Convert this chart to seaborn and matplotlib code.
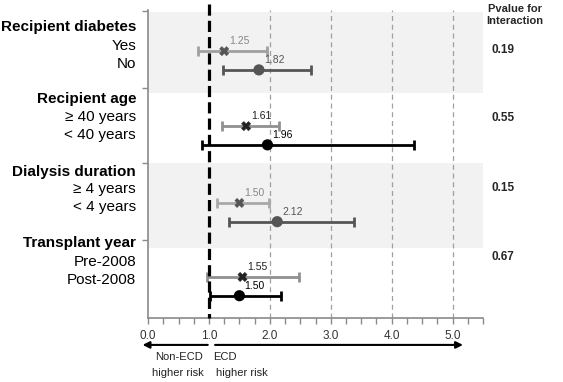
import matplotlib
matplotlib.use("Agg")
import matplotlib.pyplot as plt
import numpy as np
import seaborn as sns
import pandas as pd

groups = ["Recipient diabetes", "Recipient age", "Dialysis duration", "Transplant year"]
subgroups = ["Yes", "No", "\u2265 40 years", "< 40 years",
             "\u2265 4 years", "< 4 years", "Pre-2008", "Post-2008"]
estimate = [1.25, 1.82, 1.61, 1.96, 1.50, 2.12, 1.55, 1.50]
ci_low = [0.82, 1.23, 1.21, 0.89, 1.13, 1.33, 0.97, 1.02]
ci_high = [1.95, 2.67, 2.15, 4.36, 1.98, 3.38, 2.48, 2.18]
pvalues = ["0.19", "0.55", "0.15", "0.67"]
xticks = [0.0, 1.0, 2.0, 3.0, 4.0, 5.0]

sns.set_theme(style="white")
plt.rcParams["font.family"] = ["Liberation Sans", "DejaVu Sans"]

# row positions (y grows downward)
mark_y = [2.2, 3.2, 6.2, 7.2, 10.3, 11.3, 14.25, 15.25]
head_y = [0.9, 4.75, 8.64, 12.42]
sub_y = [1.92, 2.88, 5.7, 6.67, 9.55, 10.5, 13.44, 14.4]
p_y = [2.15, 5.75, 9.5, 13.2]

line_col = ["#a0a0a0", "#555555", "#909090", "#000000",
            "#a8a8a8", "#555555", "#909090", "#000000"]
mark_col = ["#555555", "#555555", "#222222", "#000000",
            "#555555", "#555555", "#222222", "#000000"]
txt_col = ["#888888", "#555555", "#222222", "#000000",
           "#888888", "#555555", "#222222", "#000000"]
markers = ["X", "o", "X", "o", "X", "o", "X", "o"]

df = pd.DataFrame({"label": subgroups, "est": estimate, "lo": ci_low,
                   "hi": ci_high, "y": mark_y, "m": markers})

fig = plt.figure(figsize=(5.63, 3.82), dpi=100)
ax = fig.add_axes([0.263, 0.168, 0.595, 0.806])
ymax = 16.43
ax.set_xlim(0, 5.5)
ax.set_ylim(ymax, 0)

# shaded bands
for y0, y1 in [(0.1, 4.43), (8.16, 12.7)]:
    ax.axhspan(y0, y1, color="#f2f2f2", zorder=0, lw=0)

for xv in [2, 3, 4, 5]:
    ax.axvline(xv, color="#a0a0a0", lw=0.9, ls=(0, (4, 3)), zorder=1)

ax.plot([1, 1], [-0.3, ymax], color="black", lw=2.3, ls=(0, (3.5, 1.6)),
        clip_on=False, zorder=5)

for i, r in df.iterrows():
    ax.errorbar(r.est, r.y, xerr=[[r.est - r.lo], [r.hi - r.est]], fmt="none",
                ecolor=line_col[i], elinewidth=2, capsize=3.5, capthick=2, zorder=3)
    ax.text(r.est + 0.08, r.y - 0.25, f"{r.est:.2f}", fontsize=7.5,
            color=txt_col[i], ha="left", va="bottom", zorder=6)

for m, sub in df.groupby("m"):
    idx = sub.index
    sns.scatterplot(data=sub, x="est", y="y", marker=m, s=65 if m == "o" else 45,
                    color=[mark_col[k] for k in idx], linewidth=0.3 if m == "X" else 0,
                    edgecolor=[mark_col[k] for k in idx], ax=ax, zorder=4, legend=False)

ax.set_xlabel("")
ax.set_ylabel("")
ax.set_xticks(xticks)
ax.set_xticklabels([f"{v:.1f}" for v in xticks], fontsize=8.5, color="#333333")
ax.set_xticks(np.arange(0, 5.51, 0.25), minor=True)
ax.set_yticks([0.05, 4.15, 8.15, 12.3])
ax.set_yticklabels([])
ax.tick_params(axis="x", which="both", bottom=True, length=4, width=1,
               color="#8a8a8a", pad=5)
ax.tick_params(axis="y", left=True, length=4, width=1, color="#8a8a8a")
for s in ["top", "right"]:
    ax.spines[s].set_visible(False)
for s in ["left", "bottom"]:
    ax.spines[s].set_color("#8a8a8a")
    ax.spines[s].set_linewidth(1.2)

# row labels
for g, yy in zip(groups, head_y):
    ax.text(-0.036, yy, g, ha="right", va="center", fontsize=11, fontweight="bold",
            transform=ax.get_yaxis_transform(), color="black")
for s, yy in zip(subgroups, sub_y):
    ax.text(-0.036, yy, s, ha="right", va="center", fontsize=11,
            transform=ax.get_yaxis_transform(), color="black")

# p-values
ax.text(1.095, 0.985, "Pvalue for\nInteraction", transform=ax.transAxes,
        ha="center", va="center", fontsize=8, fontweight="bold", linespacing=1.25)
for p, yy in zip(pvalues, p_y):
    ax.text(1.06, yy, p, ha="center", va="center", fontsize=8.5, fontweight="bold",
            transform=ax.get_yaxis_transform())

# risk arrows
tr = ax.get_xaxis_transform()
ax.annotate("", xy=(-0.09, -0.088), xytext=(0.98, -0.088), xycoords=tr,
            textcoords=tr, arrowprops=dict(arrowstyle="-|>", color="black", lw=1.5,
                                           mutation_scale=10, shrinkA=0, shrinkB=0))
ax.annotate("", xy=(5.17, -0.088), xytext=(1.1, -0.088), xycoords=tr,
            textcoords=tr, arrowprops=dict(arrowstyle="-|>", color="black", lw=1.5,
                                           mutation_scale=10, shrinkA=0, shrinkB=0))
ax.text(0.5, -0.128, "Non-ECD", transform=tr, ha="center", va="center", fontsize=8,
        color="#222222")
ax.text(0.49, -0.18, "higher risk", transform=tr, ha="center", va="center",
        fontsize=8, color="#222222")
ax.text(1.06, -0.128, "ECD", transform=tr, ha="left", va="center", fontsize=8,
        color="#222222")
ax.text(1.12, -0.18, "higher risk", transform=tr, ha="left", va="center",
        fontsize=8, color="#222222")

fig.savefig("out.png", dpi=100)
